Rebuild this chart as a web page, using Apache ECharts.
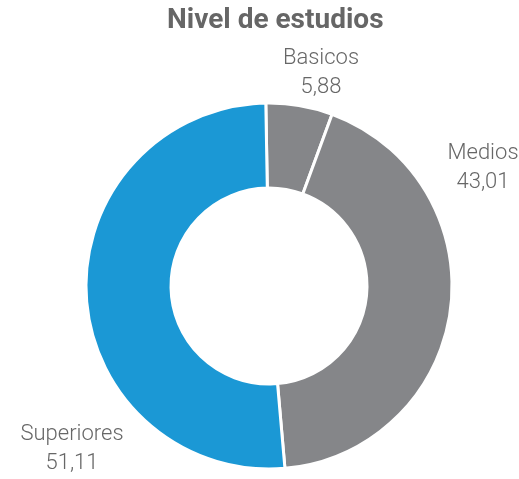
<!DOCTYPE html>
<html>
<head>
<meta charset="utf-8">
<style>
  html, body { margin: 0; padding: 0; background: #ffffff; }
  #chart { width: 519px; height: 479px; }
</style>
<script src="https://cdn.jsdelivr.net/npm/echarts@6/dist/echarts.min.js"></script>
</head>
<body>
<div id="chart"></div>
<script>
// Education level shares (percent)
var categories = ['Basicos', 'Medios', 'Superiores'];
var values = [5.88, 43.01, 51.11];
var colors = ['#858689', '#858689', '#1b98d5'];

// Where each slice's label block is centred (px)
var labelCentres = [[321, 73], [483, 168], [72, 449]];

var chart = echarts.init(document.getElementById('chart'), null, { renderer: 'canvas' });

var pieData = categories.map(function (name, i) {
  return { name: name, value: values[i], itemStyle: { color: colors[i] } };
});

chart.setOption({
  animation: false,
  backgroundColor: '#ffffff',
  title: {
    text: 'Nivel de estudios',
    left: 162,
    top: 2,
    textStyle: {
      fontFamily: 'Roboto',
      fontWeight: 700,
      fontSize: 28,
      color: '#666666'
    }
  },
  series: [{
    type: 'pie',
    center: [269, 286],
    radius: [98, 183],
    startAngle: 91,
    clockwise: true,
    itemStyle: { borderColor: '#ffffff', borderWidth: 3 },
    label: {
      show: true,
      position: 'inside',
      fontFamily: 'Roboto',
      fontWeight: 300,
      fontSize: 22,
      lineHeight: 29,
      color: '#676767',
      align: 'center',
      overflow: 'none',
      formatter: function (p) {
        return p.name + '\n' + String(p.value).replace('.', ',');
      }
    },
    labelLine: { show: false },
    labelLayout: function (params) {
      var c = labelCentres[params.dataIndex];
      return { x: c[0], y: c[1], align: 'center', verticalAlign: 'middle' };
    },
    emphasis: { disabled: true },
    data: pieData
  }]
});
</script>
</body>
</html>
